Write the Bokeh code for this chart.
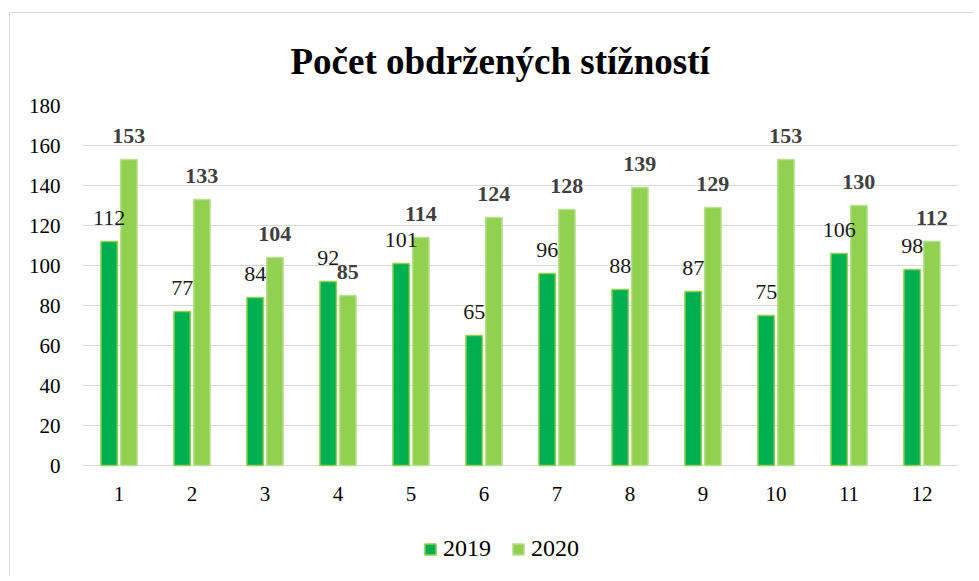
from bokeh.plotting import figure
from bokeh.models import (ColumnDataSource, Range1d, FixedTicker, LabelSet,
                          Legend, LegendItem)
from bokeh.transform import dodge
from bokeh.embed import file_html
from bokeh.resources import INLINE

months = [1, 2, 3, 4, 5, 6, 7, 8, 9, 10, 11, 12]
month_labels = ["1", "2", "3", "4", "5", "6", "7", "8", "9", "10", "11", "12"]
y2019 = [112, 77, 84, 92, 101, 65, 96, 88, 87, 75, 106, 98]
y2020 = [153, 133, 104, 85, 114, 124, 128, 139, 129, 153, 130, 112]
series_names = ["2019", "2020"]
y_ticks = [0, 20, 40, 60, 80, 100, 120, 140, 160, 180]
title_text = "Počet obdržených stížností"

src = ColumnDataSource(dict(
    month=months, mlabel=month_labels, zero=[0] * len(months),
    y2019=y2019, y2020=y2020,
    l2019=[str(v) for v in y2019], l2020=[str(v) for v in y2020],
))

FONT = "Liberation Serif"
GRID = "#D9D9D9"

# frame: top at page y=105 (value 180), 2 px per unit, bottom at page y=570
p = figure(width=965, height=564, output_backend="svg", toolbar_location=None,
           x_range=Range1d(0.5, 12.5), y_range=Range1d(-52.5, 180),
           x_axis_location=None,
           min_border_left=72, min_border_right=17, min_border_top=92,
           min_border_bottom=7)
p.styles = {"border-left": "1px solid #D9D9D9", "border-top": "1px solid #D9D9D9",
            "margin-left": "9px", "margin-top": "12px"}
p.outline_line_color = None
p.background_fill_color = "white"
p.border_fill_color = "white"

# title
p.title.text = title_text
p.title.align = "left"
p.title.offset = 208
p.title.standoff = 47
p.title.text_font = FONT
p.title.text_font_size = "37px"
p.title.text_font_style = "bold"
p.title.text_color = "#000000"

# gridlines (also gives the gray baseline at 0)
p.xgrid.grid_line_color = None
p.ygrid.grid_line_color = GRID
p.ygrid.grid_line_width = 1
p.ygrid.ticker = FixedTicker(ticks=y_ticks)

# y axis
p.yaxis.ticker = FixedTicker(ticks=y_ticks)
p.yaxis.axis_line_color = None
p.yaxis.major_tick_line_color = None
p.yaxis.minor_tick_line_color = None
p.yaxis.major_label_text_font = FONT
p.yaxis.major_label_text_font_size = "21px"
p.yaxis.major_label_text_color = "#000000"
p.yaxis.major_label_standoff = 16

# category labels under the baseline
p.add_layout(LabelSet(x="month", y="zero", text="mlabel", source=src,
                      text_align="center", text_baseline="top", y_offset=-21,
                      text_font=FONT, text_font_size="21px", text_color="#000000"))

r1 = p.vbar(x=dodge("month", -0.135), top="y2019", width=0.225, source=src,
            fill_color="#00B050", line_color="#92D050", line_width=1.5)
r2 = p.vbar(x=dodge("month", 0.135), top="y2020", width=0.225, source=src,
            fill_color="#92D050", line_color="#B9E08F", line_width=1.5)

lab1 = LabelSet(x=dodge("month", -0.135), y="y2019", text="l2019", source=src,
                text_align="center", text_baseline="alphabetic", y_offset=17,
                text_font=FONT, text_font_size="22px", text_color="#1A1A1A")
lab2 = LabelSet(x=dodge("month", 0.135), y="y2020", text="l2020", source=src,
                text_align="center", text_baseline="alphabetic", y_offset=17,
                text_font=FONT, text_font_size="22px", text_font_style="bold",
                text_color="#404040")
p.add_layout(lab1)
p.add_layout(lab2)

legend = Legend(items=[LegendItem(label=series_names[0], renderers=[r1]),
                       LegendItem(label=series_names[1], renderers=[r2])],
                orientation="horizontal", location=(341, 8),
                label_text_font=FONT, label_text_font_size="24px",
                label_text_color="#000000",
                glyph_width=14, glyph_height=14, label_standoff=6, spacing=20,
                padding=0, margin=0, border_line_color=None,
                background_fill_alpha=0)
p.add_layout(legend, "center")

open("out.html", "w").write(file_html(p, INLINE))
